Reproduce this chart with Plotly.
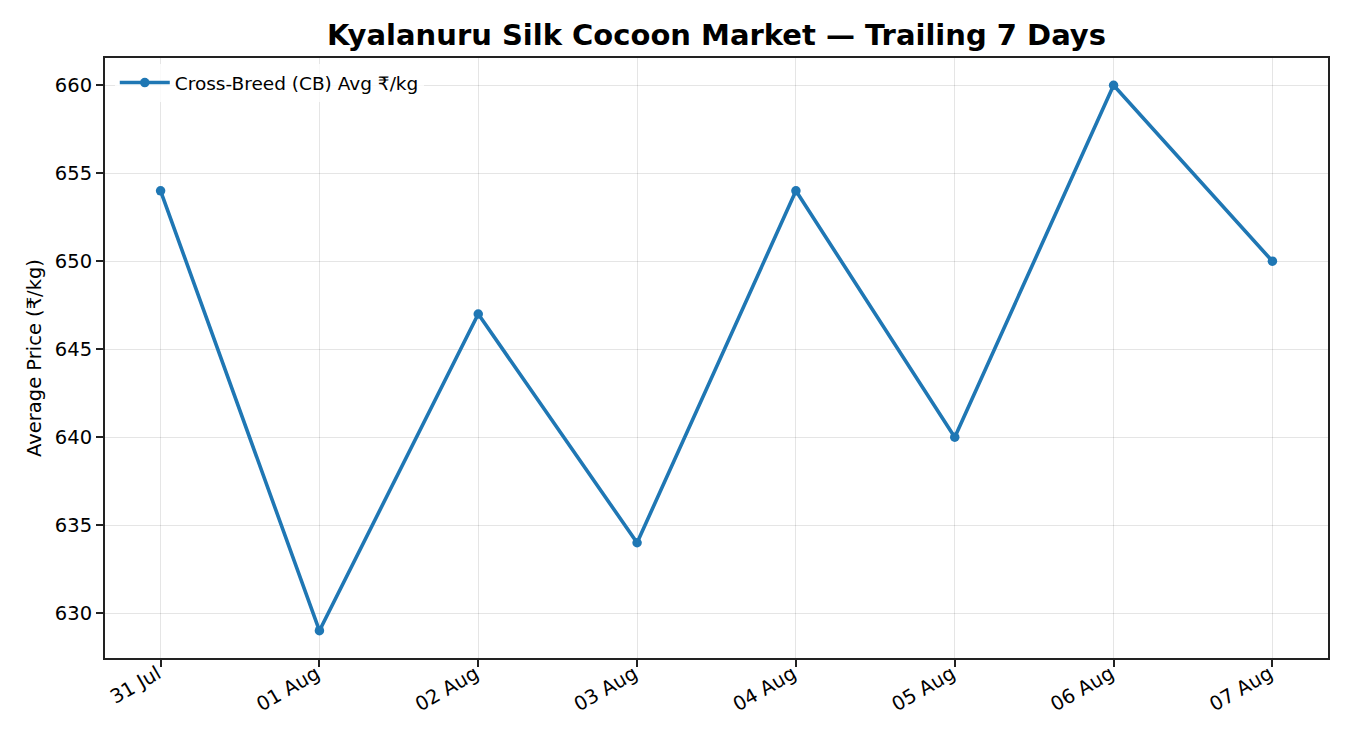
import plotly.graph_objects as go

# Trailing 7 days of CB cocoon prices
dates = ["31 Jul", "01 Aug", "02 Aug", "03 Aug", "04 Aug", "05 Aug", "06 Aug", "07 Aug"]
cb_avg_price = [654, 629, 647, 634, 654, 640, 660, 650]
y_ticks = [630, 635, 640, 645, 650, 655, 660]

fig = go.Figure()
fig.add_trace(go.Scatter(
    x=list(range(len(dates))),
    y=cb_avg_price,
    mode='lines+markers',
    name='Cross-Breed (CB) Avg ₹/kg',
    line=dict(color='#1f77b4', width=3.6),
    marker=dict(color='#1f77b4', size=9.5),
))

axis_common = dict(
    showline=True, linecolor='#222222', linewidth=2, mirror=True,
    ticks='outside', ticklen=7, tickwidth=1.6, tickcolor='#222222',
    showgrid=True, gridcolor='rgba(0,0,0,0.1)', gridwidth=1.2,
    zeroline=False,
    tickfont=dict(family='DejaVu Sans', size=19.5, color='black'),
)

# page has an 8px body margin, so the figure is shrunk to keep the plot box in place
fig.update_layout(
    width=1342, height=742,
    paper_bgcolor='white', plot_bgcolor='white',
    margin=dict(l=97, r=22, t=50, b=92),
    title=dict(
        text='<b>Kyalanuru Silk Cocoon Market — Trailing 7 Days</b>',
        x=0.5, xref='paper', y=0.9636, yanchor='middle',
        font=dict(family='DejaVu Sans', size=29, color='black'),
    ),
    font=dict(family='DejaVu Sans', color='black'),
    showlegend=True,
    legend=dict(
        x=0.008, y=0.99, xanchor='left', yanchor='top',
        bgcolor='rgba(255,255,255,0.8)', itemwidth=50,
        font=dict(family='DejaVu Sans', size=18.5, color='black'),
    ),
    xaxis=dict(
        axis_common,
        tickmode='array', tickvals=list(range(len(dates))), ticktext=dates,
        tickangle=-30, range=[-0.35, len(dates) - 1 + 0.35],
        ticklabelstandoff=-12, ticklabelshift=-3,
    ),
    yaxis=dict(
        axis_common,
        tickmode='array', tickvals=y_ticks,
        range=[627.45, 661.55],
        title=dict(text='Average Price (₹/kg)', standoff=8,
                   font=dict(family='DejaVu Sans', size=19.5, color='black')),
    ),
)

fig.write_html("out.html")
